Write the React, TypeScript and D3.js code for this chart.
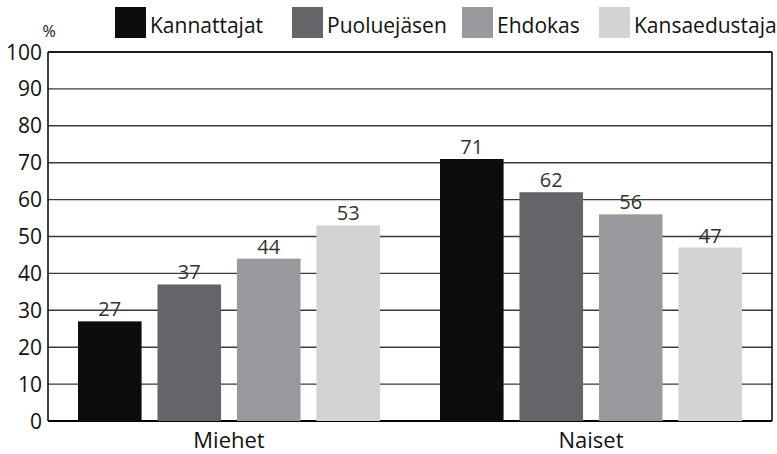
import React from "react";
import * as d3 from "d3";

const categories = ["Miehet", "Naiset"];
const seriesNames = ["Kannattajat", "Puoluejäsen", "Ehdokas", "Kansaedustaja"];
const miehet = [27, 37, 44, 53];
const naiset = [71, 62, 56, 47];
const yTicks = [0, 10, 20, 30, 40, 50, 60, 70, 80, 90, 100];
const colors = ["#0d0d0d", "#646569", "#98999c", "#d2d3d5"];

const W = 777;
const H = 454;
const margin = { left: 48, right: 5, top: 52, bottom: 33 };
const FONT = "'Open Sans', 'Noto Sans', sans-serif";

export default function App() {
  const values = [miehet, naiset];
  const x0 = d3
    .scaleBand<string>()
    .domain(categories)
    .range([margin.left, W - margin.right])
    .paddingInner(0)
    .paddingOuter(0);
  const x1 = d3
    .scaleBand<string>()
    .domain(seriesNames)
    .range([30, x0.bandwidth() - 30])
    .paddingInner(0.2)
    .paddingOuter(0);
  const y = d3
    .scaleLinear()
    .domain([0, 100])
    .range([H - margin.bottom, margin.top]);

  const legendX = [115, 292, 462, 599];

  return (
    <svg
      width={W}
      height={H}
      style={{ position: "absolute", left: 0, top: 0, background: "#fff" }}
      fontFamily={FONT}
    >
      {yTicks.map((t) => (
        <line
          key={t}
          x1={margin.left}
          x2={W - margin.right}
          y1={y(t)}
          y2={y(t)}
          stroke={t === 0 ? "#000" : "#3a3a3a"}
          strokeWidth={t === 0 ? 2 : 1.4}
        />
      ))}
      {yTicks.map((t) => (
        <text
          key={"l" + t}
          x={42}
          y={y(t)}
          dy="0.36em"
          textAnchor="end"
          fontSize={21}
          fill="#111"
        >
          {t}
        </text>
      ))}
      {categories.map((c, ci) => (
        <g key={c} transform={`translate(${x0(c)},0)`}>
          {seriesNames.map((s, si) => {
            const v = values[ci][si];
            return (
              <g key={s}>
                <rect
                  x={x1(s)}
                  y={y(v)}
                  width={x1.bandwidth()}
                  height={y(0) - y(v)}
                  fill={colors[si]}
                />
                <text
                  x={(x1(s) as number) + x1.bandwidth() / 2}
                  y={y(v) - 5}
                  textAnchor="middle"
                  fontSize={20}
                  fill="#333"
                >
                  {v}
                </text>
              </g>
            );
          })}
          <text
            x={x0.bandwidth() / 2}
            y={H - 6}
            textAnchor="middle"
            fontSize={22}
            fill="#111"
          >
            {c}
          </text>
        </g>
      ))}
      <line x1={margin.left} x2={margin.left} y1={y(100)} y2={y(0)} stroke="#000" strokeWidth={1.5} />
      <line x1={W - margin.right} x2={W - margin.right} y1={y(100)} y2={y(0)} stroke="#000" strokeWidth={1.5} />
      <line x1={margin.left} x2={W - margin.right} y1={y(100)} y2={y(100)} stroke="#000" strokeWidth={1.5} />
      <text x={49} y={37} textAnchor="middle" fontSize={16} fill="#111">%</text>
      {seriesNames.map((s, i) => (
        <g key={s}>
          <rect x={legendX[i]} y={7} width={31} height={31} fill={colors[i]} />
          <text x={legendX[i] + 35} y={33} fontSize={21} fill="#111">
            {s}
          </text>
        </g>
      ))}
    </svg>
  );
}
